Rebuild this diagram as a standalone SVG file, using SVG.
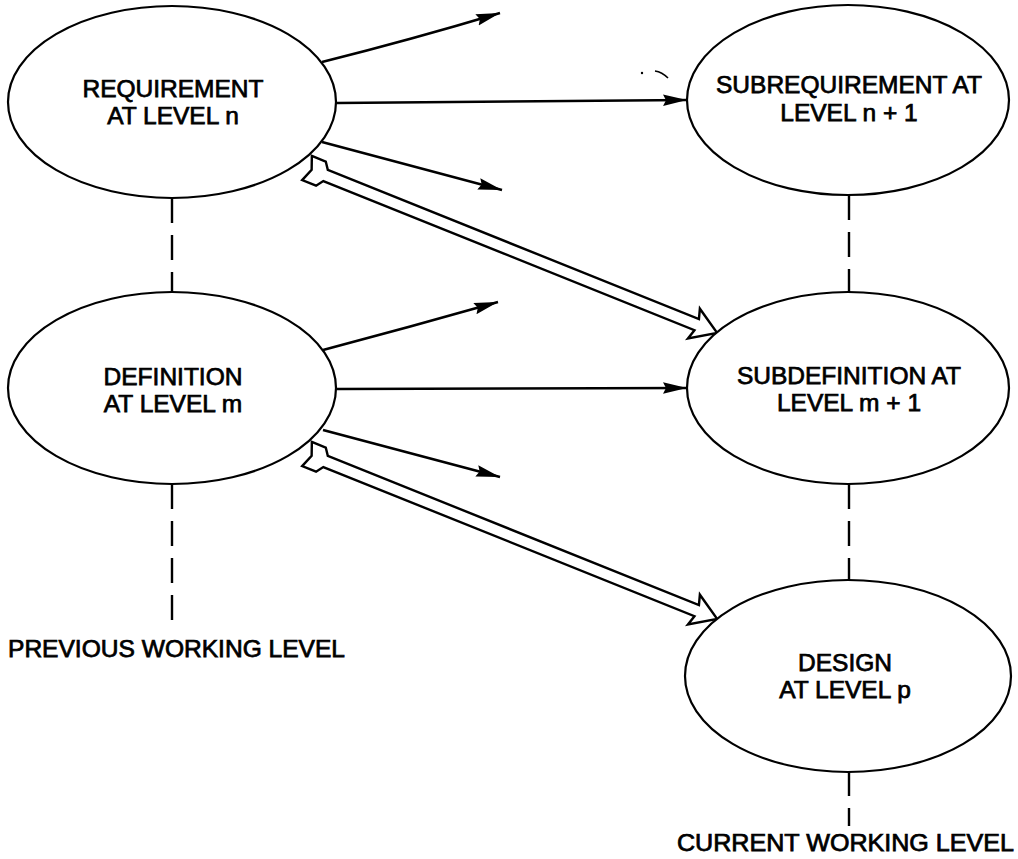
<svg xmlns="http://www.w3.org/2000/svg" width="1018" height="859" viewBox="0 0 1018 859">
  <style>
    .node { fill: #fff; stroke: #000; stroke-width: 2.2; }
    .label { font-family: "Liberation Sans", Arial, sans-serif; font-size: 24.5px; fill: #000; text-anchor: middle; stroke: #000; stroke-width: 0.75; }
    .caption { font-family: "Liberation Sans", Arial, sans-serif; font-size: 24px; fill: #000; stroke: #000; stroke-width: 0.75; }
    .thin { fill: none; stroke: #000; stroke-width: 2.6; marker-end: url(#head); }
    .dash { fill: none; stroke: #000; stroke-width: 2.4; stroke-dasharray: 25 12; }
    .hollow { fill: #fff; stroke: #000; stroke-width: 2.4; stroke-linejoin: miter; }
  </style>
  <defs>
    <marker id="head" markerUnits="userSpaceOnUse" markerWidth="26" markerHeight="14" refX="24" refY="7" orient="auto">
      <path d="M0,1.2 L24,7 L0,12.8 L3,7 Z" fill="#000"/>
    </marker>
    <!-- hollow arrow with fletched tail, drawn along +x, length 442 -->
    <path id="hollowArrow" d="M0,-13 L15,-13 L20,-6 L420,-6 L417,-16 L442,0 L417,16 L420,6 L20,6 L15,13 L0,13 L5,0 Z"/>
  </defs>

  <g id="connectors">
    <!-- level links -->
    <line class="dash" x1="172" y1="198" x2="172" y2="293"/>
    <line class="dash" x1="172" y1="484" x2="172" y2="630"/>
    <line class="dash" x1="849" y1="195" x2="849" y2="293"/>
    <line class="dash" x1="849" y1="484" x2="849" y2="580"/>
    <line class="dash" x1="849" y1="771" x2="849" y2="826"/>

    <!-- requirement fan-out -->
    <path class="thin" d="M322,62 Q410,40 500,13"/>
    <path class="thin" d="M337,103 L687,100"/>
    <path class="thin" d="M322,142 L502,190"/>

    <!-- definition fan-out -->
    <path class="thin" d="M323,350 Q410,327 498,302"/>
    <path class="thin" d="M337,389 L687,388"/>
    <path class="thin" d="M323,430 L500,477"/>

    <!-- derivation arrows -->
    <use href="#hollowArrow" class="hollow" transform="translate(307,168) rotate(21.9)"/>
    <use href="#hollowArrow" class="hollow" transform="translate(307,454) rotate(21.9)"/>

    <!-- small ink specks -->
    <circle cx="642" cy="73" r="1.2" fill="#000"/>
    <path d="M655,71 Q662,72 668,78" fill="none" stroke="#000" stroke-width="1.6"/>
    <circle cx="838" cy="128" r="1.2" fill="#000"/>
  </g>

  <g id="requirement">
    <ellipse class="node" cx="172" cy="102" rx="164" ry="96"/>
    <text class="label" x="173" y="97">REQUIREMENT</text>
    <text class="label" x="173" y="124">AT LEVEL n</text>
  </g>

  <g id="definition">
    <ellipse class="node" cx="172" cy="388" rx="164" ry="96"/>
    <text class="label" x="173" y="385">DEFINITION</text>
    <text class="label" x="173" y="412">AT LEVEL m</text>
  </g>

  <g id="subrequirement">
    <ellipse class="node" cx="848" cy="100" rx="161" ry="95"/>
    <text class="label" x="849" y="93">SUBREQUIREMENT AT</text>
    <text class="label" x="849" y="121">LEVEL n + 1</text>
  </g>

  <g id="subdefinition">
    <ellipse class="node" cx="848" cy="388" rx="161" ry="96"/>
    <text class="label" x="849" y="384">SUBDEFINITION AT</text>
    <text class="label" x="849" y="411">LEVEL m + 1</text>
  </g>

  <g id="design">
    <ellipse class="node" cx="848" cy="676" rx="163" ry="96"/>
    <text class="label" x="845" y="671">DESIGN</text>
    <text class="label" x="845" y="698">AT LEVEL p</text>
  </g>

  <g id="levels">
    <text class="caption" x="8" y="657" textLength="337" lengthAdjust="spacingAndGlyphs">PREVIOUS WORKING LEVEL</text>
    <text class="caption" x="677" y="851" textLength="337" lengthAdjust="spacingAndGlyphs">CURRENT WORKING LEVEL</text>
  </g>
</svg>
